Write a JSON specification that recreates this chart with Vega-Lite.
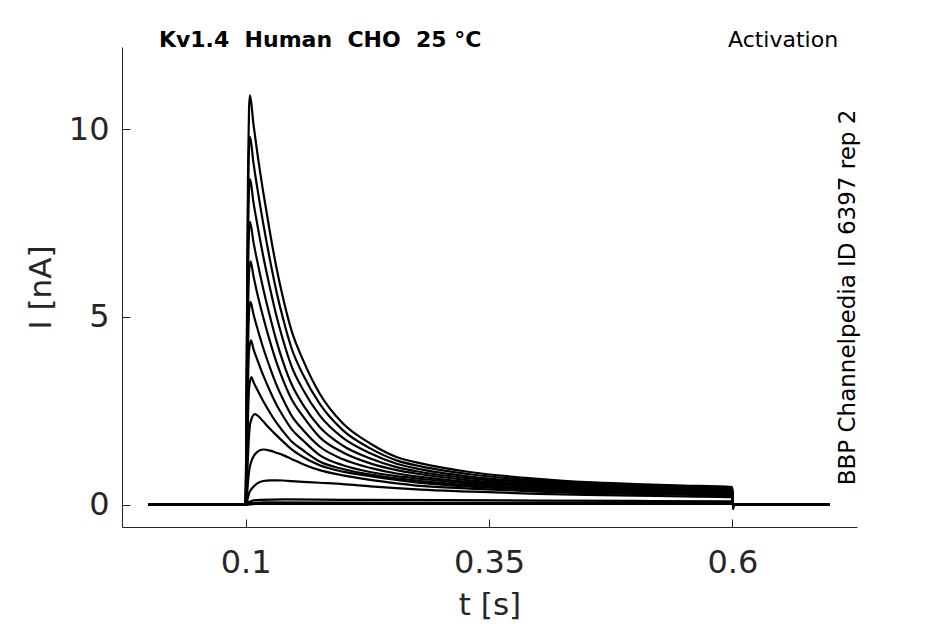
{
  "$schema": "https://vega.github.io/schema/vega-lite/v6.json",
  "width": 735,
  "height": 480,
  "autosize": {"type": "none"},
  "padding": {"left": 122, "top": 47, "right": 88, "bottom": 97},
  "background": "white",
  "layer": [
    {
      "data": {
        "values": [
          {"k": 1, "t": 0, "i": 0}, {"k": 1, "t": 0.1, "i": 0}, {"k": 1, "t": 0.1005, "i": 1.31}, {"k": 1, "t": 0.1015, "i": 5.45},
          {"k": 1, "t": 0.1025, "i": 8.94}, {"k": 1, "t": 0.1035, "i": 10.57}, {"k": 1, "t": 0.1045, "i": 10.9}, {"k": 1, "t": 0.108, "i": 10.14},
          {"k": 1, "t": 0.112, "i": 9.37}, {"k": 1, "t": 0.118, "i": 8.34}, {"k": 1, "t": 0.125, "i": 7.25}, {"k": 1, "t": 0.132, "i": 6.27},
          {"k": 1, "t": 0.1385, "i": 5.5}, {"k": 1, "t": 0.147, "i": 4.65}, {"k": 1, "t": 0.159, "i": 3.85}, {"k": 1, "t": 0.176, "i": 2.96},
          {"k": 1, "t": 0.2, "i": 2.16}, {"k": 1, "t": 0.228, "i": 1.63}, {"k": 1, "t": 0.255, "i": 1.27}, {"k": 1, "t": 0.28, "i": 1.1},
          {"k": 1, "t": 0.33, "i": 0.87}, {"k": 1, "t": 0.4, "i": 0.69}, {"k": 1, "t": 0.45, "i": 0.6}, {"k": 1, "t": 0.5, "i": 0.55},
          {"k": 1, "t": 0.55, "i": 0.51}, {"k": 1, "t": 0.6, "i": 0.47}, {"k": 1, "t": 0.6005, "i": -0.12}, {"k": 1, "t": 0.602, "i": 0},
          {"k": 1, "t": 0.7, "i": 0},

          {"k": 2, "t": 0, "i": 0}, {"k": 2, "t": 0.1, "i": 0}, {"k": 2, "t": 0.1005, "i": 1.18}, {"k": 2, "t": 0.1015, "i": 4.9},
          {"k": 2, "t": 0.1025, "i": 8.04}, {"k": 2, "t": 0.1035, "i": 9.51}, {"k": 2, "t": 0.1045, "i": 9.8}, {"k": 2, "t": 0.108, "i": 9.11},
          {"k": 2, "t": 0.112, "i": 8.43}, {"k": 2, "t": 0.118, "i": 7.5}, {"k": 2, "t": 0.125, "i": 6.52}, {"k": 2, "t": 0.132, "i": 5.64},
          {"k": 2, "t": 0.1385, "i": 4.95}, {"k": 2, "t": 0.147, "i": 4.18}, {"k": 2, "t": 0.159, "i": 3.46}, {"k": 2, "t": 0.176, "i": 2.69},
          {"k": 2, "t": 0.2, "i": 1.98}, {"k": 2, "t": 0.228, "i": 1.5}, {"k": 2, "t": 0.255, "i": 1.18}, {"k": 2, "t": 0.28, "i": 1.02},
          {"k": 2, "t": 0.33, "i": 0.81}, {"k": 2, "t": 0.4, "i": 0.64}, {"k": 2, "t": 0.45, "i": 0.56}, {"k": 2, "t": 0.5, "i": 0.51},
          {"k": 2, "t": 0.55, "i": 0.475}, {"k": 2, "t": 0.6, "i": 0.44}, {"k": 2, "t": 0.6005, "i": 0}, {"k": 2, "t": 0.7, "i": 0},

          {"k": 3, "t": 0, "i": 0}, {"k": 3, "t": 0.1, "i": 0}, {"k": 3, "t": 0.1005, "i": 1.04}, {"k": 3, "t": 0.1015, "i": 4.34},
          {"k": 3, "t": 0.1025, "i": 7.11}, {"k": 3, "t": 0.1035, "i": 8.41}, {"k": 3, "t": 0.1045, "i": 8.67}, {"k": 3, "t": 0.108, "i": 8.06},
          {"k": 3, "t": 0.112, "i": 7.46}, {"k": 3, "t": 0.118, "i": 6.63}, {"k": 3, "t": 0.125, "i": 5.77}, {"k": 3, "t": 0.132, "i": 4.99},
          {"k": 3, "t": 0.1385, "i": 4.38}, {"k": 3, "t": 0.147, "i": 3.7}, {"k": 3, "t": 0.159, "i": 3.06}, {"k": 3, "t": 0.176, "i": 2.38},
          {"k": 3, "t": 0.2, "i": 1.78}, {"k": 3, "t": 0.228, "i": 1.37}, {"k": 3, "t": 0.255, "i": 1.09}, {"k": 3, "t": 0.28, "i": 0.94},
          {"k": 3, "t": 0.33, "i": 0.75}, {"k": 3, "t": 0.4, "i": 0.6}, {"k": 3, "t": 0.45, "i": 0.52}, {"k": 3, "t": 0.5, "i": 0.48},
          {"k": 3, "t": 0.55, "i": 0.445}, {"k": 3, "t": 0.6, "i": 0.41}, {"k": 3, "t": 0.6005, "i": 0}, {"k": 3, "t": 0.7, "i": 0},

          {"k": 4, "t": 0, "i": 0}, {"k": 4, "t": 0.1, "i": 0}, {"k": 4, "t": 0.1005, "i": 0.9}, {"k": 4, "t": 0.1015, "i": 3.77},
          {"k": 4, "t": 0.1025, "i": 6.17}, {"k": 4, "t": 0.1035, "i": 7.3}, {"k": 4, "t": 0.1045, "i": 7.53}, {"k": 4, "t": 0.108, "i": 7.0},
          {"k": 4, "t": 0.112, "i": 6.48}, {"k": 4, "t": 0.118, "i": 5.76}, {"k": 4, "t": 0.125, "i": 5.01}, {"k": 4, "t": 0.132, "i": 4.33},
          {"k": 4, "t": 0.1385, "i": 3.8}, {"k": 4, "t": 0.147, "i": 3.22}, {"k": 4, "t": 0.159, "i": 2.66}, {"k": 4, "t": 0.176, "i": 2.07},
          {"k": 4, "t": 0.2, "i": 1.57}, {"k": 4, "t": 0.228, "i": 1.23}, {"k": 4, "t": 0.255, "i": 1.0}, {"k": 4, "t": 0.28, "i": 0.87},
          {"k": 4, "t": 0.33, "i": 0.7}, {"k": 4, "t": 0.4, "i": 0.56}, {"k": 4, "t": 0.45, "i": 0.49}, {"k": 4, "t": 0.5, "i": 0.45},
          {"k": 4, "t": 0.55, "i": 0.415}, {"k": 4, "t": 0.6, "i": 0.38}, {"k": 4, "t": 0.6005, "i": 0}, {"k": 4, "t": 0.7, "i": 0},

          {"k": 5, "t": 0, "i": 0}, {"k": 5, "t": 0.1, "i": 0}, {"k": 5, "t": 0.1005, "i": 0.7}, {"k": 5, "t": 0.1015, "i": 3.0},
          {"k": 5, "t": 0.1025, "i": 5.1}, {"k": 5, "t": 0.1035, "i": 6.2}, {"k": 5, "t": 0.105, "i": 6.48}, {"k": 5, "t": 0.108, "i": 6.1},
          {"k": 5, "t": 0.112, "i": 5.62}, {"k": 5, "t": 0.118, "i": 5.0}, {"k": 5, "t": 0.125, "i": 4.35}, {"k": 5, "t": 0.132, "i": 3.77},
          {"k": 5, "t": 0.1385, "i": 3.32}, {"k": 5, "t": 0.147, "i": 2.82}, {"k": 5, "t": 0.159, "i": 2.35}, {"k": 5, "t": 0.176, "i": 1.8},
          {"k": 5, "t": 0.2, "i": 1.39}, {"k": 5, "t": 0.228, "i": 1.1}, {"k": 5, "t": 0.255, "i": 0.92}, {"k": 5, "t": 0.28, "i": 0.81},
          {"k": 5, "t": 0.33, "i": 0.65}, {"k": 5, "t": 0.4, "i": 0.52}, {"k": 5, "t": 0.45, "i": 0.46}, {"k": 5, "t": 0.5, "i": 0.42},
          {"k": 5, "t": 0.55, "i": 0.39}, {"k": 5, "t": 0.6, "i": 0.36}, {"k": 5, "t": 0.6005, "i": 0}, {"k": 5, "t": 0.7, "i": 0},

          {"k": 6, "t": 0, "i": 0}, {"k": 6, "t": 0.1, "i": 0}, {"k": 6, "t": 0.1005, "i": 0.55}, {"k": 6, "t": 0.1015, "i": 2.4},
          {"k": 6, "t": 0.1025, "i": 4.2}, {"k": 6, "t": 0.1035, "i": 5.15}, {"k": 6, "t": 0.105, "i": 5.4}, {"k": 6, "t": 0.108, "i": 5.08},
          {"k": 6, "t": 0.112, "i": 4.7}, {"k": 6, "t": 0.118, "i": 4.18}, {"k": 6, "t": 0.125, "i": 3.65}, {"k": 6, "t": 0.132, "i": 3.17},
          {"k": 6, "t": 0.1385, "i": 2.8}, {"k": 6, "t": 0.147, "i": 2.38}, {"k": 6, "t": 0.159, "i": 1.99}, {"k": 6, "t": 0.176, "i": 1.55},
          {"k": 6, "t": 0.2, "i": 1.21}, {"k": 6, "t": 0.228, "i": 0.98}, {"k": 6, "t": 0.255, "i": 0.83}, {"k": 6, "t": 0.28, "i": 0.74},
          {"k": 6, "t": 0.33, "i": 0.6}, {"k": 6, "t": 0.4, "i": 0.49}, {"k": 6, "t": 0.45, "i": 0.43}, {"k": 6, "t": 0.5, "i": 0.39},
          {"k": 6, "t": 0.55, "i": 0.36}, {"k": 6, "t": 0.6, "i": 0.33}, {"k": 6, "t": 0.6005, "i": 0}, {"k": 6, "t": 0.7, "i": 0},

          {"k": 7, "t": 0, "i": 0}, {"k": 7, "t": 0.1, "i": 0}, {"k": 7, "t": 0.1005, "i": 0.4}, {"k": 7, "t": 0.1015, "i": 1.8},
          {"k": 7, "t": 0.1025, "i": 3.3}, {"k": 7, "t": 0.1035, "i": 4.1}, {"k": 7, "t": 0.1055, "i": 4.38}, {"k": 7, "t": 0.108, "i": 4.15},
          {"k": 7, "t": 0.112, "i": 3.86}, {"k": 7, "t": 0.118, "i": 3.45}, {"k": 7, "t": 0.125, "i": 3.03}, {"k": 7, "t": 0.132, "i": 2.65},
          {"k": 7, "t": 0.1385, "i": 2.36}, {"k": 7, "t": 0.147, "i": 2.02}, {"k": 7, "t": 0.159, "i": 1.71}, {"k": 7, "t": 0.176, "i": 1.32},
          {"k": 7, "t": 0.2, "i": 1.05}, {"k": 7, "t": 0.228, "i": 0.87}, {"k": 7, "t": 0.255, "i": 0.76}, {"k": 7, "t": 0.28, "i": 0.69},
          {"k": 7, "t": 0.33, "i": 0.56}, {"k": 7, "t": 0.4, "i": 0.45}, {"k": 7, "t": 0.45, "i": 0.4}, {"k": 7, "t": 0.5, "i": 0.37},
          {"k": 7, "t": 0.55, "i": 0.34}, {"k": 7, "t": 0.6, "i": 0.31}, {"k": 7, "t": 0.6005, "i": 0}, {"k": 7, "t": 0.7, "i": 0},

          {"k": 8, "t": 0, "i": 0}, {"k": 8, "t": 0.1, "i": 0}, {"k": 8, "t": 0.1005, "i": 0.3}, {"k": 8, "t": 0.1015, "i": 1.3},
          {"k": 8, "t": 0.1025, "i": 2.4}, {"k": 8, "t": 0.1035, "i": 3.1}, {"k": 8, "t": 0.106, "i": 3.4}, {"k": 8, "t": 0.108, "i": 3.27},
          {"k": 8, "t": 0.112, "i": 3.06}, {"k": 8, "t": 0.118, "i": 2.76}, {"k": 8, "t": 0.125, "i": 2.45}, {"k": 8, "t": 0.132, "i": 2.17},
          {"k": 8, "t": 0.1385, "i": 1.95}, {"k": 8, "t": 0.147, "i": 1.69}, {"k": 8, "t": 0.159, "i": 1.45}, {"k": 8, "t": 0.176, "i": 1.15},
          {"k": 8, "t": 0.2, "i": 0.95}, {"k": 8, "t": 0.228, "i": 0.8}, {"k": 8, "t": 0.255, "i": 0.7}, {"k": 8, "t": 0.28, "i": 0.63},
          {"k": 8, "t": 0.33, "i": 0.52}, {"k": 8, "t": 0.4, "i": 0.42}, {"k": 8, "t": 0.45, "i": 0.37}, {"k": 8, "t": 0.5, "i": 0.34},
          {"k": 8, "t": 0.55, "i": 0.315}, {"k": 8, "t": 0.6, "i": 0.29}, {"k": 8, "t": 0.6005, "i": 0}, {"k": 8, "t": 0.7, "i": 0},

          {"k": 9, "t": 0, "i": 0}, {"k": 9, "t": 0.1, "i": 0}, {"k": 9, "t": 0.1005, "i": 0.15}, {"k": 9, "t": 0.1015, "i": 0.7},
          {"k": 9, "t": 0.1025, "i": 1.35}, {"k": 9, "t": 0.1035, "i": 1.85}, {"k": 9, "t": 0.105, "i": 2.2}, {"k": 9, "t": 0.1095, "i": 2.41},
          {"k": 9, "t": 0.112, "i": 2.38}, {"k": 9, "t": 0.118, "i": 2.22}, {"k": 9, "t": 0.125, "i": 2.02}, {"k": 9, "t": 0.132, "i": 1.84},
          {"k": 9, "t": 0.1385, "i": 1.68}, {"k": 9, "t": 0.147, "i": 1.48}, {"k": 9, "t": 0.159, "i": 1.27}, {"k": 9, "t": 0.176, "i": 1.05},
          {"k": 9, "t": 0.2, "i": 0.88}, {"k": 9, "t": 0.228, "i": 0.76}, {"k": 9, "t": 0.255, "i": 0.66}, {"k": 9, "t": 0.28, "i": 0.58},
          {"k": 9, "t": 0.33, "i": 0.48}, {"k": 9, "t": 0.4, "i": 0.39}, {"k": 9, "t": 0.45, "i": 0.345}, {"k": 9, "t": 0.5, "i": 0.32},
          {"k": 9, "t": 0.55, "i": 0.29}, {"k": 9, "t": 0.6, "i": 0.27}, {"k": 9, "t": 0.6005, "i": 0}, {"k": 9, "t": 0.7, "i": 0},

          {"k": 10, "t": 0, "i": 0}, {"k": 10, "t": 0.1, "i": 0}, {"k": 10, "t": 0.1005, "i": 0.05}, {"k": 10, "t": 0.1015, "i": 0.3},
          {"k": 10, "t": 0.1025, "i": 0.62}, {"k": 10, "t": 0.1035, "i": 0.88}, {"k": 10, "t": 0.105, "i": 1.08}, {"k": 10, "t": 0.108, "i": 1.28},
          {"k": 10, "t": 0.112, "i": 1.41}, {"k": 10, "t": 0.118, "i": 1.47}, {"k": 10, "t": 0.125, "i": 1.44}, {"k": 10, "t": 0.132, "i": 1.38},
          {"k": 10, "t": 0.1385, "i": 1.32}, {"k": 10, "t": 0.147, "i": 1.22}, {"k": 10, "t": 0.159, "i": 1.08}, {"k": 10, "t": 0.176, "i": 0.92},
          {"k": 10, "t": 0.2, "i": 0.78}, {"k": 10, "t": 0.228, "i": 0.66}, {"k": 10, "t": 0.255, "i": 0.57}, {"k": 10, "t": 0.28, "i": 0.5},
          {"k": 10, "t": 0.33, "i": 0.43}, {"k": 10, "t": 0.4, "i": 0.35}, {"k": 10, "t": 0.45, "i": 0.31}, {"k": 10, "t": 0.5, "i": 0.29},
          {"k": 10, "t": 0.55, "i": 0.265}, {"k": 10, "t": 0.6, "i": 0.24}, {"k": 10, "t": 0.6005, "i": 0}, {"k": 10, "t": 0.7, "i": 0},

          {"k": 11, "t": 0, "i": 0}, {"k": 11, "t": 0.1, "i": 0}, {"k": 11, "t": 0.1005, "i": 0.02}, {"k": 11, "t": 0.1015, "i": 0.1},
          {"k": 11, "t": 0.1025, "i": 0.2}, {"k": 11, "t": 0.1035, "i": 0.3}, {"k": 11, "t": 0.105, "i": 0.38}, {"k": 11, "t": 0.108, "i": 0.48},
          {"k": 11, "t": 0.112, "i": 0.57}, {"k": 11, "t": 0.118, "i": 0.63}, {"k": 11, "t": 0.125, "i": 0.65}, {"k": 11, "t": 0.132, "i": 0.65},
          {"k": 11, "t": 0.1385, "i": 0.645}, {"k": 11, "t": 0.147, "i": 0.63}, {"k": 11, "t": 0.159, "i": 0.61}, {"k": 11, "t": 0.176, "i": 0.585},
          {"k": 11, "t": 0.2, "i": 0.55}, {"k": 11, "t": 0.228, "i": 0.49}, {"k": 11, "t": 0.255, "i": 0.44}, {"k": 11, "t": 0.28, "i": 0.4},
          {"k": 11, "t": 0.33, "i": 0.35}, {"k": 11, "t": 0.4, "i": 0.29}, {"k": 11, "t": 0.45, "i": 0.26}, {"k": 11, "t": 0.5, "i": 0.24},
          {"k": 11, "t": 0.55, "i": 0.22}, {"k": 11, "t": 0.6, "i": 0.2}, {"k": 11, "t": 0.6005, "i": 0}, {"k": 11, "t": 0.7, "i": 0},

          {"k": 12, "t": 0, "i": 0}, {"k": 12, "t": 0.1, "i": 0}, {"k": 12, "t": 0.102, "i": 0.05}, {"k": 12, "t": 0.106, "i": 0.1},
          {"k": 12, "t": 0.115, "i": 0.13}, {"k": 12, "t": 0.14, "i": 0.14}, {"k": 12, "t": 0.2, "i": 0.13}, {"k": 12, "t": 0.3, "i": 0.12},
          {"k": 12, "t": 0.4, "i": 0.11}, {"k": 12, "t": 0.5, "i": 0.1}, {"k": 12, "t": 0.6, "i": 0.09}, {"k": 12, "t": 0.6005, "i": 0},
          {"k": 12, "t": 0.7, "i": 0},

          {"k": 13, "t": 0, "i": 0}, {"k": 13, "t": 0.1, "i": 0}, {"k": 13, "t": 0.105, "i": 0.04}, {"k": 13, "t": 0.12, "i": 0.06},
          {"k": 13, "t": 0.3, "i": 0.05}, {"k": 13, "t": 0.6, "i": 0.04}, {"k": 13, "t": 0.6005, "i": 0}, {"k": 13, "t": 0.7, "i": 0},

          {"k": 14, "t": 0, "i": 0.01}, {"k": 14, "t": 0.1, "i": 0}, {"k": 14, "t": 0.11, "i": 0.02}, {"k": 14, "t": 0.6, "i": 0.02},
          {"k": 14, "t": 0.6005, "i": 0}, {"k": 14, "t": 0.7, "i": 0}
        ]
      },
      "mark": {"type": "line", "color": "black", "strokeWidth": 2.2, "strokeJoin": "round", "interpolate": "monotone"},
      "encoding": {
        "x": {
          "field": "t",
          "type": "quantitative",
          "scale": {"domain": [-0.027, 0.728], "nice": false, "zero": false},
          "axis": {"values": [0.1, 0.35, 0.6], "format": "~g", "title": "t [s]", "labelPadding": 28, "titlePadding": 12}
        },
        "y": {
          "field": "i",
          "type": "quantitative",
          "scale": {"domain": [-0.594, 12.19], "nice": false, "zero": false},
          "axis": {"values": [0, 5, 10], "title": "I [nA]", "labelPadding": 21, "titlePadding": 11}
        },
        "detail": {"field": "k", "type": "nominal"}
      }
    },
    {
      "data": {"values": [{}]},
      "mark": {"type": "text", "text": "Kv1.4\u00a0 Human\u00a0 CHO\u00a0 25 °C", "align": "left", "baseline": "alphabetic", "font": "DejaVu Sans", "fontSize": 22, "fontWeight": "bold", "color": "black"},
      "encoding": {
        "x": {"datum": 0.0109, "type": "quantitative"},
        "y": {"datum": 12.19, "type": "quantitative"}
      }
    },
    {
      "data": {"values": [{}]},
      "mark": {"type": "text", "text": "Activation", "align": "right", "baseline": "alphabetic", "font": "DejaVu Sans", "fontSize": 22, "color": "black"},
      "encoding": {
        "x": {"datum": 0.7086, "type": "quantitative"},
        "y": {"datum": 12.19, "type": "quantitative"}
      }
    },
    {
      "data": {"values": [{}]},
      "mark": {"type": "text", "text": "BBP Channelpedia ID 6397 rep 2", "angle": 270, "align": "center", "baseline": "middle", "font": "DejaVu Sans", "fontSize": 23, "color": "black"},
      "encoding": {
        "x": {"datum": 0.7188, "type": "quantitative"},
        "y": {"datum": 5.52, "type": "quantitative"}
      }
    }
  ],
  "config": {
    "view": {"stroke": null},
    "font": "DejaVu Sans",
    "axis": {
      "grid": false,
      "domainColor": "#262626",
      "domainWidth": 1,
      "tickColor": "#262626",
      "tickWidth": 1,
      "tickSize": -8,
      "labelColor": "#262626",
      "labelFont": "DejaVu Sans",
      "labelFontSize": 32,
      "titleColor": "#262626",
      "titleFont": "DejaVu Sans",
      "titleFontSize": 31,
      "titleFontWeight": "normal"
    }
  }
}
